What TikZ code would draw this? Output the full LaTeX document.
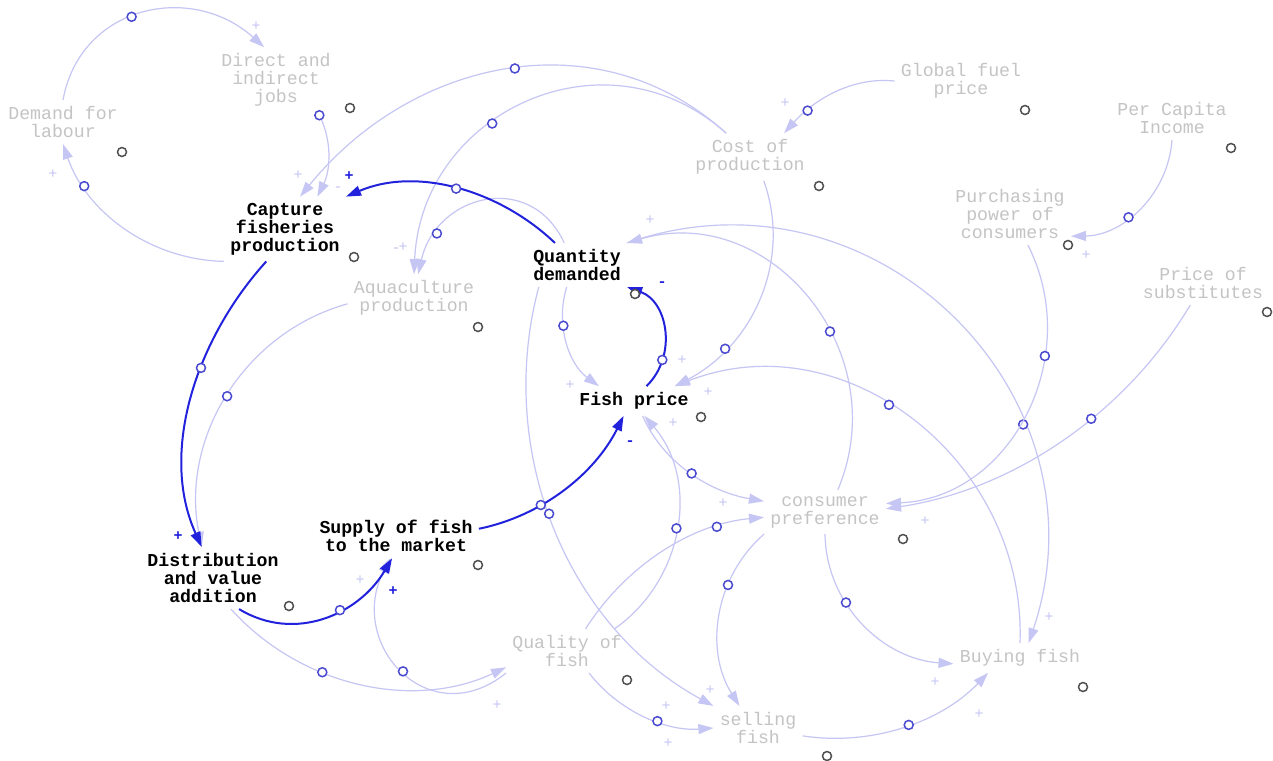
\documentclass[tikz,border=0pt]{standalone}
\usepackage{fontspec}
\setmonofont{Liberation Mono}
\usetikzlibrary{calc,arrows.meta}
\definecolor{lnkcol}{HTML}{C6C6F4}
\definecolor{loopcol}{HTML}{2222DD}
\definecolor{hndcol}{HTML}{4A4AD0}
\definecolor{dotcol}{HTML}{505050}
\definecolor{txtgray}{HTML}{C4C4C4}
\newcommand\varfont{\ttfamily\fontsize{9.1}{9}\selectfont}
\newcommand\sgnfont{\ttfamily\fontsize{7.5}{7.5}\selectfont}
% circular arc: from, to, middle of the arc, place of the handle, handle name
\newcommand\lnk[6][lnk]{%
  \path let \p1=(#2), \p2=(#4), \p3=(#3) in \pgfextra{%
    \pgfmathsetmacro\lnka{atan2(\y2-\y1,\x2-\x1)}%
    \pgfmathsetmacro\lnkb{atan2(\y3-\y1,\x3-\x1)}%
    \pgfmathsetmacro\lnkc{atan2(\y2-\y3,\x2-\x3)}%
    \pgfmathsetmacro\lnkd{atan2(\y1-\y3,\x1-\x3)}%
    \pgfmathsetmacro\lnkout{2*\lnka-\lnkb}%
    \pgfmathsetmacro\lnkin{2*\lnkc-\lnkd}%
    \pgfmathsetmacro\lnkloose{1/(3*0.3915*pow(cos(\lnka-\lnkb),2))}%
    \global\let\lnkout\lnkout \global\let\lnkin\lnkin
    \global\let\lnkloose\lnkloose};
  \draw[#1] (#2) to[out=\lnkout,in=\lnkin,looseness=\lnkloose]
    node[hnd,pos=#5] (#6) {} (#3);}
\begin{document}
\begin{tikzpicture}[x=0.5pt,y=-0.5pt,
    var/.style={align=center, text=txtgray, font=\varfont, inner sep=3pt},
    loopvar/.style={var, text=black, font=\varfont\bfseries},
    lnk/.style={draw=lnkcol, line width=0.6pt, -{Triangle[length=7.5pt,width=5pt]}},
    looplnk/.style={draw=loopcol, line width=1pt, -{Triangle[length=7.5pt,width=5pt]}},
    hnd/.style={circle, draw=hndcol, fill=white, line width=0.75pt, inner sep=0pt, minimum size=4.5pt},
    shd/.style={circle, draw=dotcol, fill=white, line width=0.75pt, inner sep=0pt, minimum size=4.5pt},
    sgn/.style={font=\sgnfont, text=lnkcol, inner sep=0pt},
    loopsgn/.style={font=\sgnfont\bfseries, text=loopcol, inner sep=0pt}]
  \fill[white] (0,0) rectangle (1273,760);
  \useasboundingbox (0,0) rectangle (1273,760);

  \node[var] (dem) at (63,122) {Demand for\\labour};
  \node[var] (jobs) at (276,80) {Direct and\\indirect\\jobs};
  \node[loopvar] (cap) at (285,229) {Capture\\fisheries\\production};
  \node[var] (aqua) at (414,298) {Aquaculture\\production};
  \node[loopvar] (qd) at (577,265) {Quantity\\demanded};
  \node[var] (cost) at (750,157) {Cost of\\production};
  \node[var] (fuel) at (961,81) {Global fuel\\price};
  \node[var] (inc) at (1172,118) {Per Capita\\Income};
  \node[var] (pp) at (1010,214) {Purchasing\\power of\\consumers};
  \node[var] (subs) at (1203,283) {Price of\\substitutes};
  \node[loopvar] (fp) at (634,401) {Fish price};
  \node[var] (pref) at (825,512) {consumer\\preference};
  \node[loopvar] (sup) at (396,536) {Supply of fish\\to the market};
  \node[loopvar] (dist) at (213,578) {Distribution\\and value\\addition};
  \node[var] (qual) at (567,651) {Quality of\\fish};
  \node[var] (buy) at (1020,658) {Buying fish};
  \node[var] (sell) at (758,728) {selling\\fish};

  \lnk{dem.north}{jobs.110}{140,17}{0.45}{h1}
  \lnk{cap.south west}{dem.south}{125,228}{0.78}{h2}
  \lnk{jobs.-38}{cap.45}{328,152}{0.03}{h3}
  \lnk{cost.135}{cap.65}{520,71}{0.48}{h4}
  \lnk{cost.135}{aqua.north}{530,103}{0.6}{h6}
  \lnk{qd.120}{aqua.80}{488,205}{0.8}{h7}
  \lnk{fuel.west}{cost.35}{842,90}{0.75}{h8}
  \lnk{inc.south}{pp.-20}{1140,208}{0.6}{h9}
  \lnk{aqua.185}{dist.110}{228,395}{0.5}{h11}
  \lnk{qd.-115}{fp.157}{567,342}{0.35}{h15}
  \lnk{cost.-60}{fp.20}{760,295}{0.75}{h16}
  \lnk{pref.60}{qd.north east}{808,297}{0.4}{h17}
  \lnk{qd.north east}{buy.60}{952,317}{0.69}{h18}
  \lnk{buy.north}{fp.20}{912,418}{0.56}{h19}
  \lnk{fp.-60}{pref.170}{686,469}{0.5}{h20}
  \lnk{qual.25}{fp.-55}{677,527}{0.5}{h21}
  \lnk{qual.50}{pref.185}{664,551}{0.78}{h22}
  \lnk{qd.-150}{sell.north west}{555,530}{0.47}{h23}
  \lnk{pref.south west}{sell.130}{720,615}{0.33}{h24}
  \lnk{pref.south}{buy.185}{862,622}{0.36}{h25}
  \lnk{sell.-10}{buy.-155}{903,727}{0.53}{h26}
  \lnk{qual.-45}{sell.west}{644,716}{0.6}{h27}
  \lnk{dist.-60}{qual.-165}{361,684}{0.37}{h28}
  \lnk{qual.south west}{sup.-105}{408,668}{0.5}{h29}
  \lnk{pp.-60}{pref.8}{1025,417}{0.32}{h30}
  \lnk{subs.-120}{pref.3}{1061,441}{0.4}{h31}

  \lnk[looplnk]{qd.135}{cap.north east}{450,187}{0.5}{h5}
  \lnk[looplnk]{cap.-120}{dist.110}{188,412}{0.4}{h10}
  \lnk[looplnk]{dist.-50}{sup.-100}{318,618}{0.6}{h12}
  \lnk[looplnk]{sup.5}{fp.-125}{563,490}{0.35}{h13}
  \lnk[looplnk]{fp.50}{qd.south east}{664,330}{0.25}{h14}

  \foreach \x/\y [count=\i] in {122/152,350/108,354/257,478/327,819/186,1025/110,
      1231/148,1068/245,1267/312,635/294,701/417,903/539,478/565,289/606,
      627/680,1083/687,827/756}
    \node[shd] (dot\i) at (\x,\y) {};

  \foreach \x/\y/\s [count=\i] in {53/174/+,256/26/+,298/175/+,403/247/+,650/220/+,
      785/103/+,1086/255/+,570/385/+,682/360/+,708/392/+,673/423/+,723/503/+,
      925/521/+,360/580/+,497/705/+,666/706/+,668/743/+,710/690/+,935/682/+,
      979/714/+,1049/617/+,338/189/-,396/250/-}
    \node[sgn] (sg\i) at (\x,\y) {\s};
  \foreach \x/\y/\s [count=\i] in {349/176/+,178/536/+,393/591/+,630/443/-,662/284/-}
    \node[loopsgn] (lsg\i) at (\x,\y) {\s};
\end{tikzpicture}
\end{document}
